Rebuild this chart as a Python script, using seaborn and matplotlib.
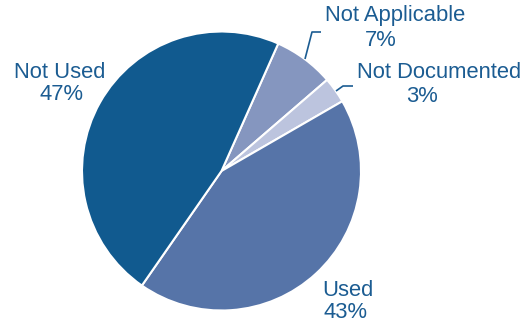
import matplotlib
matplotlib.use("Agg")
import matplotlib.pyplot as plt
import seaborn as sns

categories = ["Not Applicable", "Not Documented", "Used", "Not Used"]
shares = [7, 3, 43, 47]
colors = ["#8596BF", "#BCC4DE", "#5674A8", "#115A8F"]
text_color = "#1B5C92"

sns.set_theme(style="white")
plt.rcParams["font.family"] = ["Liberation Sans", "DejaVu Sans"]

W, H = 521, 326
fig = plt.figure(figsize=(W / 100, H / 100), dpi=100)
ax = fig.add_axes([0, 0, 1, 1])
ax.set_xlim(0, W)
ax.set_ylim(0, H)
ax.set_aspect("equal")
ax.axis("off")

cx, cy, r = 221.5, H - 171, 139.5
ax.pie(shares, colors=colors, startangle=66, counterclock=False,
       center=(cx, cy), radius=r, frame=True,
       wedgeprops=dict(edgecolor="white", linewidth=1.5))
ax.set_xlim(0, W)
ax.set_ylim(0, H)
ax.axis("off")

fs = 15.8
# label text (name, percent) with positions in image pixel coords
labels = {
    "Not Used": ((60, 72), (61, 95)),
    "Not Applicable": ((395, 16), (381, 41)),
    "Not Documented": ((439, 73), (422, 97)),
    "Used": ((348, 291), (345, 312)),
}
for name, val in zip(categories, shares):
    (nx, ny), (px, py) = labels[name]
    ax.text(nx, H - ny, name, ha="center", va="center", fontsize=fs, color=text_color)
    ax.text(px, H - py, f"{val}%", ha="center", va="center", fontsize=fs, color=text_color)

# leader lines
for xs, ys in [([305, 312, 321], [59, 32, 32]), ([336, 343, 353], [91, 86, 86])]:
    ax.plot(xs, [H - y for y in ys], color=text_color, lw=1.2, solid_capstyle="butt")

fig.savefig("out.png", dpi=100)
